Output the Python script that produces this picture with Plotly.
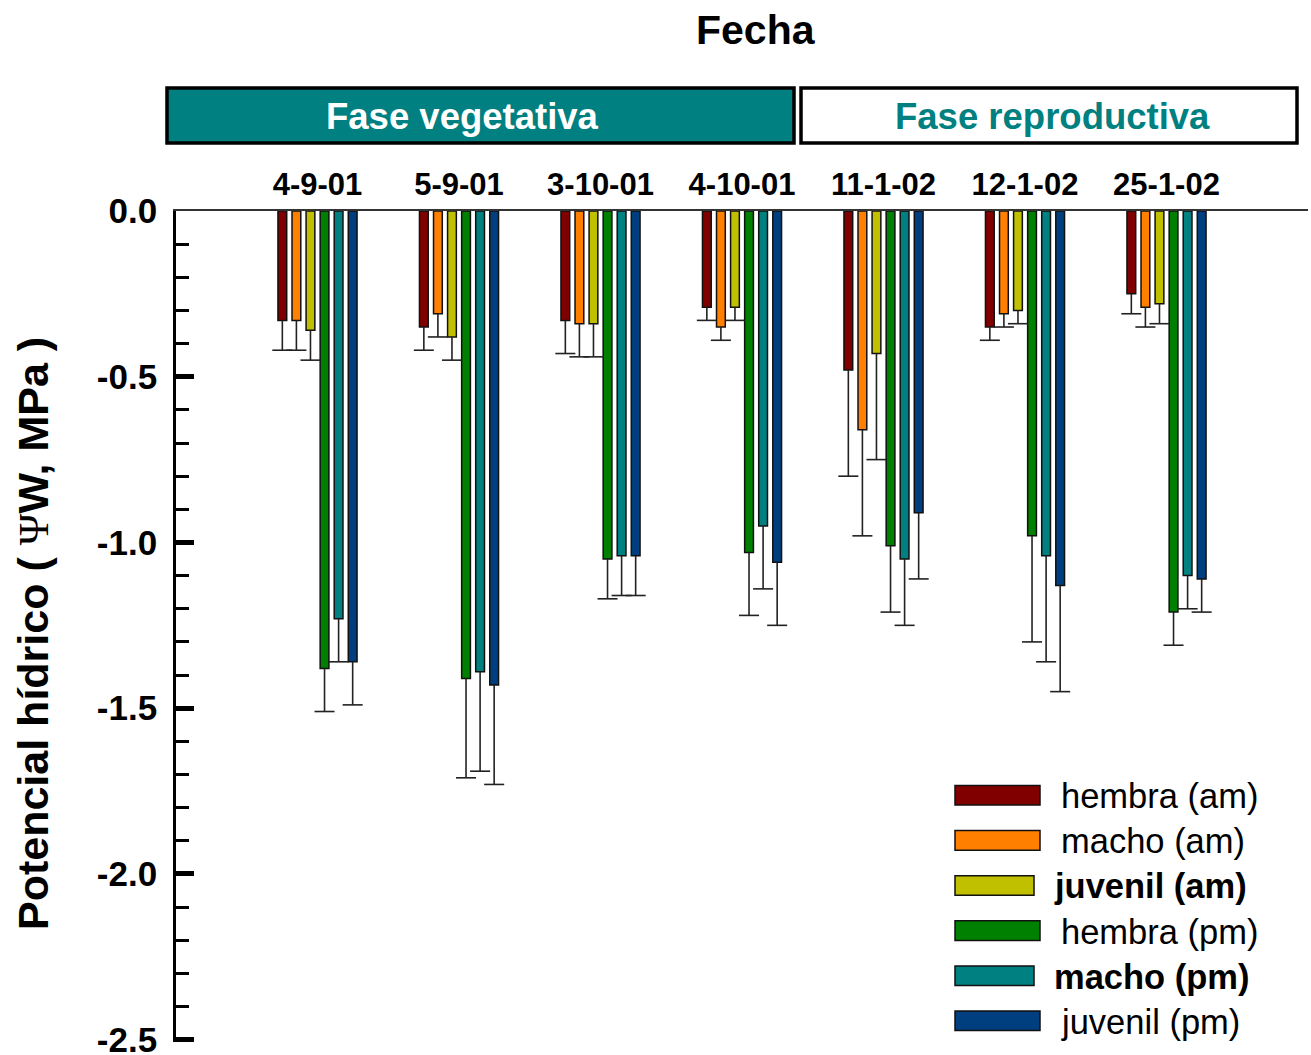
import plotly.graph_objects as go

# ---------------- data ----------------
dates = ["4-9-01", "5-9-01", "3-10-01", "4-10-01", "11-1-02", "12-1-02", "25-1-02"]
series_names = ["hembra (am)", "macho (am)", "juvenil (am)",
                "hembra (pm)", "macho (pm)", "juvenil (pm)"]

hembra_am = [-0.33, -0.35, -0.33, -0.29, -0.48, -0.35, -0.25]
macho_am = [-0.33, -0.31, -0.34, -0.35, -0.66, -0.31, -0.29]
juvenil_am = [-0.36, -0.38, -0.34, -0.29, -0.43, -0.30, -0.28]
hembra_pm = [-1.38, -1.41, -1.05, -1.03, -1.01, -0.98, -1.21]
macho_pm = [-1.23, -1.39, -1.04, -0.95, -1.05, -1.04, -1.10]
juvenil_pm = [-1.36, -1.43, -1.04, -1.06, -0.91, -1.13, -1.11]

err_am = [0.09, 0.07, 0.10, 0.04, 0.32, 0.04, 0.06]
err_pm = [0.13, 0.30, 0.12, 0.19, 0.20, 0.32, 0.10]

y_tickvals = [0.0, -0.5, -1.0, -1.5, -2.0, -2.5]
y_ticktext = ["0.0", "-0.5", "-1.0", "-1.5", "-2.0", "-2.5"]

phases = ["Fase vegetativa", "Fase reproductiva"]

values = [hembra_am, macho_am, juvenil_am, hembra_pm, macho_pm, juvenil_pm]
errors = [err_am, err_am, err_am, err_pm, err_pm, err_pm]

# ---------------- style ----------------
colors = ["#800000", "#FF8000", "#C0C000", "#008000", "#008080", "#003F7F"]
bold_label = [False, False, True, False, True, False]
FONT = "Liberation Sans, Arial, sans-serif"
SLOT = 0.0994
BAR_W = 0.062
PLOT_TOP, PLOT_BOTTOM = 211, 1042

def px_x(p):
    return (p - 176) / 1132.0

def px_y(p):
    return (PLOT_BOTTOM - p) / float(PLOT_BOTTOM - PLOT_TOP)

fig = go.Figure()

cat_pos = list(range(1, len(dates) + 1))
for j, (name, vals, errs, col) in enumerate(zip(series_names, values, errors, colors)):
    xs = [c + (j - 2.5) * SLOT for c in cat_pos]
    fig.add_trace(go.Bar(
        x=xs, y=vals, width=BAR_W, name=name,
        marker=dict(color=col, line=dict(color="#111111", width=1.5)),
        error_y=dict(type="data", symmetric=False, array=[0] * len(vals),
                     arrayminus=errs, width=0, thickness=1.6, color="#222222"),
        showlegend=False,
    ))
    fig.add_trace(go.Scatter(
        x=xs, y=[v - e for v, e in zip(vals, errs)], mode="markers",
        marker=dict(symbol="line-ew", size=14.3,
                    line=dict(color="#222222", width=1.6)),
        showlegend=False, hoverinfo="skip",
    ))

shapes = []
annotations = []

# phase header boxes
shapes.append(dict(type="rect", xref="paper", yref="paper",
                   x0=px_x(167), x1=px_x(794), y0=px_y(143), y1=px_y(88),
                   fillcolor="#008080", line=dict(color="black", width=3.5)))
shapes.append(dict(type="rect", xref="paper", yref="paper",
                   x0=px_x(801), x1=px_x(1297), y0=px_y(143), y1=px_y(88),
                   fillcolor="white", line=dict(color="black", width=3.5)))
annotations.append(dict(xref="paper", yref="paper", x=px_x(462), y=px_y(116),
                        text="<b>" + phases[0] + "</b>", showarrow=False,
                        font=dict(family=FONT, size=36.5, color="white"),
                        xanchor="center", yanchor="middle"))
annotations.append(dict(xref="paper", yref="paper", x=px_x(1052), y=px_y(116),
                        text="<b>" + phases[1] + "</b>", showarrow=False,
                        font=dict(family=FONT, size=36.5, color="#008080"),
                        xanchor="center", yanchor="middle"))
# title
annotations.append(dict(xref="paper", yref="paper", x=px_x(756), y=px_y(30),
                        text="<b>Fecha</b>", showarrow=False,
                        font=dict(family=FONT, size=41, color="black"),
                        xanchor="center", yanchor="middle"))
# y title
annotations.append(dict(xref="paper", yref="paper", x=px_x(33), y=px_y(634),
                        text="<b>Potencial hídrico ( <span style='font-family:Liberation Serif;font-weight:normal'>Ψ</span>W, MPa )</b>",
                        showarrow=False, textangle=-90,
                        font=dict(family=FONT, size=43, color="black"),
                        xanchor="center", yanchor="middle"))

# manual legend
for j, name in enumerate(series_names):
    yc = 795.3 + 45.1 * j
    x_right = 1034 if bold_label[j] else 1040
    shapes.append(dict(type="rect", xref="paper", yref="paper",
                       x0=px_x(955), x1=px_x(x_right), y0=px_y(yc + 9.8), y1=px_y(yc - 9.8),
                       fillcolor=colors[j], line=dict(color="#111111", width=1.5)))
    txt = "<b>" + name + "</b>" if bold_label[j] else name
    annotations.append(dict(xref="paper", yref="paper",
                            x=px_x(1052 if bold_label[j] else 1059), y=px_y(yc + 1),
                            text=txt, showarrow=False, xanchor="left", yanchor="middle",
                            font=dict(family=FONT, size=34.5, color="black")))

fig.update_layout(
    width=1311, height=1055,
    margin=dict(l=176, r=3, t=PLOT_TOP, b=1055 - PLOT_BOTTOM, autoexpand=False),
    paper_bgcolor="white", plot_bgcolor="white",
    barmode="overlay",
    font=dict(family=FONT, color="black"),
    shapes=shapes, annotations=annotations,
    xaxis=dict(side="top", range=[0, 8], tickvals=cat_pos, ticktext=dates,
               showline=True, linecolor="#333333", linewidth=2,
               ticks="", showgrid=False, zeroline=False, automargin=False,
               tickfont=dict(family=FONT, size=31, color="black", weight="bold"),
               ticklabelstandoff=2),
    yaxis=dict(range=[-2.507, 0], tickvals=y_tickvals, ticktext=y_ticktext,
               showline=True, linecolor="black", linewidth=2.8,
               ticks="inside", ticklen=18, tickwidth=4.5, tickcolor="black",
               minor=dict(dtick=0.1, tick0=0, ticks="inside", ticklen=13,
                          tickwidth=2.5, tickcolor="black", showgrid=False),
               showgrid=False, zeroline=False, ticklabeloverflow="allow",
               automargin=False,
               tickfont=dict(family=FONT, size=35, color="black", weight="bold"),
               ticklabelstandoff=9),
)

fig.write_html("out.html")
